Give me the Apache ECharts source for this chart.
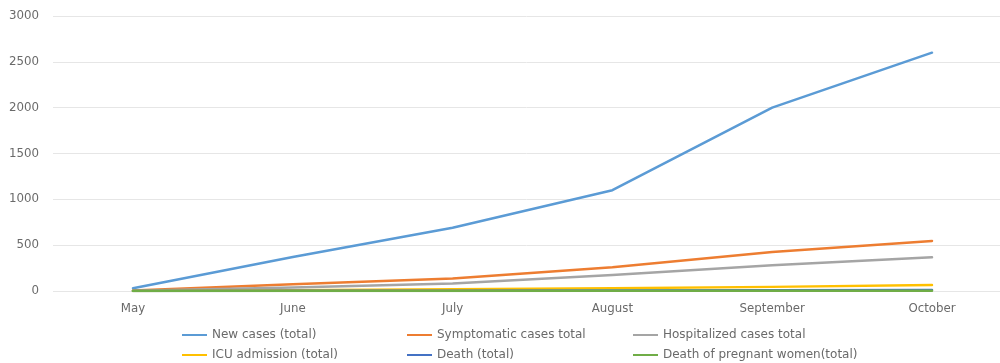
<!DOCTYPE html>
<html>
<head>
<meta charset="utf-8">
<script src="https://cdn.jsdelivr.net/npm/echarts@6/dist/echarts.min.js"></script>
<style>
  html, body { margin: 0; padding: 0; background: #fff; }
  #chart { width: 1000px; height: 363px; }
</style>
</head>
<body>
<div id="chart"></div>
<script>
// Monthly totals, May to October
const months = ['May', 'June', 'July', 'August', 'September', 'October'];
const newCases = [30, 370, 690, 1100, 2000, 2600];
const symptomatic = [5, 74, 136, 258, 425, 546];
const hospitalized = [3, 37, 82, 175, 280, 368];
const icuAdmission = [1, 9, 18, 30, 45, 65];
const deaths = [0, 2, 4, 6, 9, 12];
const pregnantDeaths = [0, 1, 1, 2, 3, 4];
const yTicks = [0, 500, 1000, 1500, 2000, 2500, 3000];

const seriesDefs = [
  { name: 'New cases (total)', data: newCases, color: '#5B9BD5' },
  { name: 'Symptomatic cases total', data: symptomatic, color: '#ED7D31' },
  { name: 'Hospitalized cases total', data: hospitalized, color: '#A5A5A5' },
  { name: 'ICU admission (total)', data: icuAdmission, color: '#FFC000' },
  { name: 'Death (total)', data: deaths, color: '#4472C4' },
  { name: 'Death of pregnant women(total)', data: pregnantDeaths, color: '#70AD47' }
];

const textColor = '#6a6a6a';
const fontFamily = 'DejaVu Sans, sans-serif';
const axisFontSize = 11.8;
const legendFontSize = 12;

// one legend block per entry so the columns line up in a 3x2 layout
const legendCols = [177, 402, 628];
const legendRows = [324, 344];
const legends = seriesDefs.map((s, i) => ({
  data: [s.name],
  left: legendCols[i % 3],
  top: legendRows[Math.floor(i / 3)],
  icon: 'rect',
  itemWidth: 25,
  itemHeight: 2,
  itemGap: 0,
  selectedMode: false,
  textStyle: { color: textColor, fontSize: legendFontSize, fontFamily: fontFamily }
}));

const yScale = { min: yTicks[0], max: yTicks[yTicks.length - 1], interval: yTicks[1] - yTicks[0] };

const chart = echarts.init(document.getElementById('chart'), null, { renderer: 'canvas' });
chart.setOption({
  animation: false,
  backgroundColor: '#ffffff',
  grid: [
    // full-width frame carrying the value labels and gridlines
    { left: 53, top: 16, right: 0, height: 275, containLabel: false },
    // plotting area spanning the first to last month
    { left: 133, top: 16, right: 68, height: 275, containLabel: false }
  ],
  legend: legends,
  xAxis: [
    {
      gridIndex: 0, type: 'value', min: 0, max: 1,
      show: false
    },
    {
      gridIndex: 1,
      type: 'category',
      data: months,
      boundaryGap: false,
      axisLine: { show: false },
      axisTick: { show: false },
      splitLine: { show: false },
      axisLabel: { color: textColor, fontSize: axisFontSize, fontFamily: fontFamily, margin: 12 }
    }
  ],
  yAxis: [
    {
      gridIndex: 0,
      type: 'value',
      ...yScale,
      axisLine: { show: false },
      axisTick: { show: false },
      axisLabel: { color: textColor, fontSize: axisFontSize, fontFamily: fontFamily, margin: 14, formatter: v => String(v) },
      splitLine: { lineStyle: { color: '#e6e6e6', width: 1 } }
    },
    {
      gridIndex: 1,
      type: 'value',
      ...yScale,
      show: false,
      splitLine: { show: false }
    }
  ],
  series: seriesDefs.map(s => ({
    name: s.name,
    type: 'line',
    xAxisIndex: 1,
    yAxisIndex: 1,
    data: s.data,
    showSymbol: false,
    symbol: 'none',
    smooth: false,
    color: s.color,
    lineStyle: { color: s.color, width: 2.5, join: 'round', cap: 'round' },
    itemStyle: { color: s.color }
  }))
});
</script>
</body>
</html>
